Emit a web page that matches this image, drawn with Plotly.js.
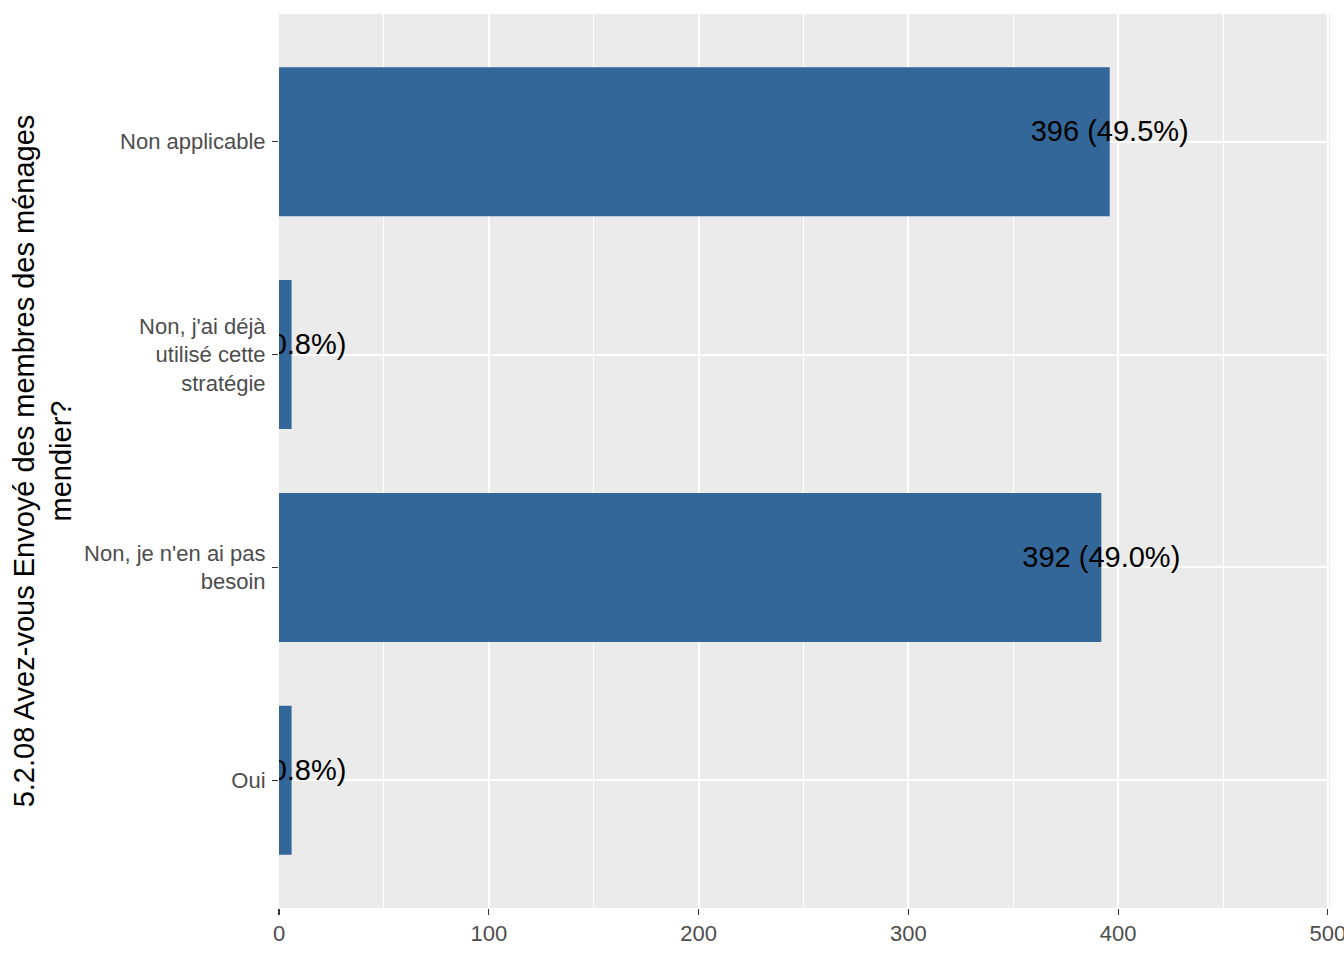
<!DOCTYPE html>
<html>
<head>
<meta charset="utf-8">
<script src="https://cdn.plot.ly/plotly-3.0.1.min.js"></script>
<style>html,body{margin:0;padding:0;background:#fff;}#chart{width:1344px;height:960px;}</style>
</head>
<body>
<div id="chart"></div>
<script>
// Data (top to bottom)
const categories = ["Non applicable", "Non, j'ai déjà utilisé cette stratégie", "Non, je n'en ai pas besoin", "Oui"];
const tickLabels = ["Non applicable", "Non, j'ai déjà<br>utilisé cette<br>stratégie", "Non, je n'en ai pas<br>besoin", "Oui"];
const counts = [396, 6, 392, 6];
const percents = [49.5, 0.8, 49.0, 0.8];
const xTicks = [0, 100, 200, 300, 400, 500];
const labels = counts.map((c, i) => c + " (" + percents[i].toFixed(1) + "%)");

const FONT = "Liberation Sans, Arial, sans-serif";
const n = categories.length;
const shift = 0.0376; // label vertical nudge in category units

const bars = {
  type: "bar",
  orientation: "h",
  x: counts,
  y: categories,
  width: 0.7,
  marker: {color: "#336699", line: {width: 0}},
  hoverinfo: "x+y",
  showlegend: false
};

const text = {
  type: "scatter",
  mode: "text",
  x: counts,
  y: categories,
  yaxis: "y2",
  text: labels,
  textposition: "middle center",
  textfont: {family: FONT, size: 29, color: "#000000"},
  cliponaxis: true,
  hoverinfo: "skip",
  showlegend: false
};

const layout = {
  width: 1344,
  height: 960,
  margin: {l: 279, r: 14, t: 14, b: 52},
  paper_bgcolor: "#ffffff",
  plot_bgcolor: "#EBEBEB",
  font: {family: FONT, size: 22, color: "#4D4D4D"},
  showlegend: false,
  xaxis: {
    range: [0, 501],
    tickvals: xTicks,
    ticktext: xTicks.map(String),
    ticks: "outside",
    ticklen: 6,
    tickwidth: 1.1,
    tickcolor: "#333333",
    tickfont: {family: FONT, size: 22, color: "#4D4D4D"},
    ticklabeloverflow: "allow",
    showgrid: true,
    gridcolor: "#FFFFFF",
    gridwidth: 2,
    minor: {dtick: 50, tick0: 0, showgrid: true, gridcolor: "#FFFFFF", gridwidth: 1, ticks: ""},
    zeroline: false,
    showline: false,
    automargin: false,
    fixedrange: true
  },
  yaxis: {
    type: "category",
    categoryorder: "array",
    categoryarray: categories,
    tickvals: categories,
    ticktext: tickLabels,
    range: [n - 0.4, -0.6],
    ticks: "outside",
    ticklen: 6,
    tickwidth: 1.1,
    tickcolor: "#333333",
    ticklabelstandoff: 2,
    tickfont: {family: FONT, size: 22, color: "#4D4D4D"},
    showgrid: true,
    gridcolor: "#FFFFFF",
    gridwidth: 2,
    zeroline: false,
    showline: false,
    automargin: false,
    title: {
      text: "5.2.08 Avez-vous Envoyé des membres des ménages<br>mendier?",
      font: {family: FONT, size: 29, color: "#000000"},
      standoff: 3
    }
  },
  yaxis2: {
    type: "category",
    overlaying: "y",
    categoryorder: "array",
    categoryarray: categories,
    range: [n - 0.4 + shift, -0.6 + shift],
    showgrid: false,
    showticklabels: false,
    ticks: "",
    zeroline: false,
    showline: false
  }
};

Plotly.newPlot("chart", [bars, text], layout, {displayModeBar: false, staticPlot: true});
</script>
</body>
</html>
